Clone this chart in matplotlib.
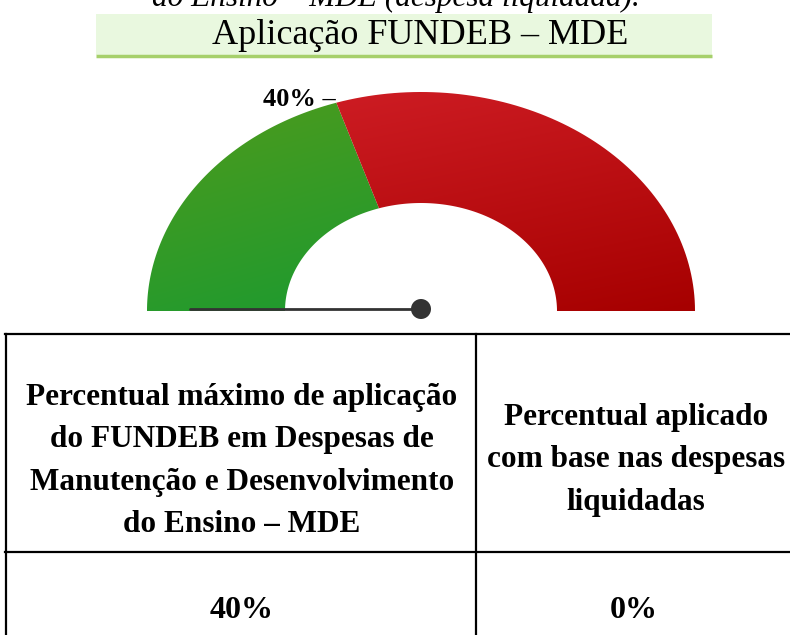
import numpy as np
import matplotlib.pyplot as plt
from matplotlib.patches import Polygon, Rectangle, Circle

# gauge data
band_edges = [0, 40, 100]          # green up to the limit, red after
band_colors = [("#4f9b1c", "#1c9a30"), ("#cd1c23", "#a60000")]
limit_pct = 40
applied_pct = 0

title = "Aplicação FUNDEB – MDE"
caption_cut = "do Ensino – MDE (despesa liquidada)."

header_left = "Percentual máximo de aplicação\ndo FUNDEB em Despesas de\nManutenção e Desenvolvimento\ndo Ensino – MDE"
header_right = "Percentual aplicado\ncom base nas despesas\nliquidadas"
value_left = "40%"
value_right = "0%"

W, H = 790, 635
fig = plt.figure(figsize=(W / 100, H / 100), dpi=100)
ax = fig.add_axes([0, 0, 1, 1])
ax.set_xlim(0, W)
ax.set_ylim(H, 0)
ax.axis("off")

serif = "Liberation Serif"

# caption cut at the very top (only its lower half is in frame)
ax.text(396, 6, caption_cut, ha="center", va="baseline", fontsize=22.5,
        family=serif, style="italic")

# title bar
ax.add_patch(Rectangle((96, 14), 616, 41, facecolor="#e9f8df", edgecolor="none"))
ax.plot([96, 712], [56, 56], color="#a6d06b", lw=2.5, solid_capstyle="butt")
ax.text(420, 36, title, ha="center", va="center", fontsize=26, family=serif)

# gauge geometry (ellipse, pixel units)
cx, cy = 421, 311
rx_out, ry_out = 274, 219
rx_in, ry_in = 136, 108


def band_poly(v0, v1):
    t = np.linspace(np.pi * (1 - v0 / 100), np.pi * (1 - v1 / 100), 80)
    xo = cx + rx_out * np.cos(t)
    yo = cy - ry_out * np.sin(t)
    xi = cx + rx_in * np.cos(t[::-1])
    yi = cy - ry_in * np.sin(t[::-1])
    return np.column_stack([np.r_[xo, xi], np.r_[yo, yi]])


def hex_rgb(h):
    return np.array([int(h[i:i + 2], 16) for i in (1, 3, 5)]) / 255.0


for (v0, v1), (c_top, c_bot) in zip(zip(band_edges[:-1], band_edges[1:]), band_colors):
    pts = band_poly(v0, v1)
    poly = Polygon(pts, closed=True, facecolor="none", edgecolor="none")
    ax.add_patch(poly)
    x0, x1 = pts[:, 0].min(), pts[:, 0].max()
    y0, y1 = pts[:, 1].min(), pts[:, 1].max()
    gy, gx = np.mgrid[0:1:100j, 0:1:100j]
    tt = np.clip(0.75 * gy + 0.25 * gx, 0, 1)[..., None]
    img = (1 - tt) * hex_rgb(c_top) + tt * hex_rgb(c_bot)
    im = ax.imshow(img, extent=(x0, x1, y1, y0), origin="upper",
                   interpolation="bilinear", aspect="auto", zorder=2)
    im.set_clip_path(poly)

# limit label
ang = np.pi * (1 - limit_pct / 100)
lx = cx + rx_out * np.cos(ang)
ly = cy - ry_out * np.sin(ang)
ax.text(lx - 1, ly - 3, f"{limit_pct}% –", ha="right", va="center",
        fontsize=19, family=serif, weight="bold", zorder=3)

# needle
n_ang = np.pi * (1 - applied_pct / 100)
n_len = 231
ny = cy - 2
ax.plot([cx, cx + n_len * np.cos(n_ang)], [ny, ny - n_len * np.sin(n_ang) * 0.8],
        color="#333333", lw=2, solid_capstyle="round", zorder=4)
ax.add_patch(Circle((cx, ny), 10, facecolor="#333333", edgecolor="none", zorder=5))

# table
lw = 1.6
ax.plot([5, W], [334, 334], color="black", lw=lw)
ax.plot([6, 6], [334, H], color="black", lw=lw)
ax.plot([476, 476], [334, H], color="black", lw=lw)
ax.plot([5, W], [552, 552], color="black", lw=lw)

ax.text(242, 461, header_left, ha="center", va="center", fontsize=22.5,
        family=serif, weight="bold", linespacing=1.62)
ax.text(636, 460, header_right, ha="center", va="center", fontsize=22.5,
        family=serif, weight="bold", linespacing=1.62)
ax.text(242, 611, value_left, ha="center", va="center", fontsize=23,
        family=serif, weight="bold")
ax.text(634, 611, value_right, ha="center", va="center", fontsize=23,
        family=serif, weight="bold")

fig.savefig("out.png", dpi=100)
